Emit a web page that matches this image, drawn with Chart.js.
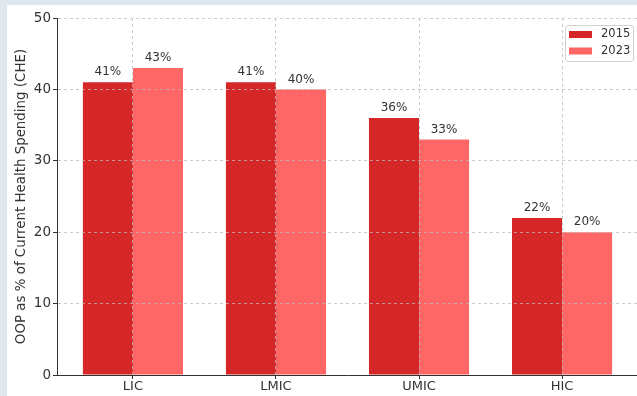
<!DOCTYPE html>
<html lang="en">
<head>
    <meta charset="UTF-8">
    <title>OOP share of CHE by income group</title>
    <script src="https://cdn.jsdelivr.net/npm/chart.js"></script>
    <style>
        html, body {
            margin: 0;
            padding: 0;
            background: #dfe7ef;
            width: 637px;
            height: 396px;
            overflow: hidden;
        }
        .frame {
            position: absolute;
            left: 7px;
            top: 5px;
            width: 630px;
            height: 391px;
            background: #ffffff;
        }
    </style>
</head>
<body>
    <div class="frame">
        <canvas id="oopChart" width="630" height="391"></canvas>
    </div>

    <script>
        // income groups and OOP share values (% of CHE)
        const groups = ["LIC", "LMIC", "UMIC", "HIC"];
        const years = ["2015", "2023"];
        const oop2015 = [41, 41, 36, 22];
        const oop2023 = [43, 40, 33, 20];
        const yTicks = [0, 10, 20, 30, 40, 50];

        const colors = ["#d62728", "#ff6666"];
        const textColor = "#333333";
        const fontFamily = "'DejaVu Sans', sans-serif";

        const toPoints = arr => arr.map((v, i) => ({ x: i, y: v }));

        // percentage labels above every bar
        const barLabels = {
            id: "barLabels",
            afterDatasetsDraw(chart) {
                const ctx = chart.ctx;
                ctx.save();
                ctx.font = "12px " + fontFamily;
                ctx.fillStyle = textColor;
                ctx.textAlign = "center";
                ctx.textBaseline = "bottom";
                chart.data.datasets.forEach((ds, di) => {
                    chart.getDatasetMeta(di).data.forEach((bar, i) => {
                        ctx.fillText(ds.data[i].y + "%", bar.x, bar.y - 4);
                    });
                });
                ctx.restore();
            }
        };

        // matplotlib-like legend box in the upper right corner
        const boxLegend = {
            id: "boxLegend",
            afterDraw(chart) {
                const ctx = chart.ctx;
                const area = chart.chartArea;
                const w = 68, h = 36;
                const x0 = area.right - w - 4, y0 = area.top + 7;
                ctx.save();
                ctx.fillStyle = "rgba(255,255,255,0.85)";
                ctx.strokeStyle = "#d0d0d0";
                ctx.lineWidth = 1;
                ctx.beginPath();
                ctx.roundRect(x0 + 0.5, y0 + 0.5, w, h, 3);
                ctx.fill();
                ctx.stroke();
                ctx.font = "11.5px " + fontFamily;
                ctx.textBaseline = "middle";
                ctx.textAlign = "left";
                chart.data.datasets.forEach((ds, i) => {
                    const cy = y0 + 9.5 + i * 16.5;
                    ctx.fillStyle = ds.backgroundColor;
                    ctx.fillRect(x0 + 4, cy - 3.5, 23, 7);
                    ctx.fillStyle = textColor;
                    ctx.fillText(ds.label, x0 + 36, cy);
                });
                ctx.restore();
            }
        };

        const gridStyle = {
            offset: false,
            color: ctx => (ctx.tick && ctx.tick.value === 0 && ctx.scale.axis === "y") ? "rgba(0,0,0,0)" : "rgba(185,185,185,0.75)",
            tickColor: "#333333",
            tickBorderDash: [],
            tickLength: 4,
            z: 1
        };
        const borderStyle = { display: true, color: "#333333", width: 1, dash: [3, 3], z: 2 };

        new Chart(document.getElementById("oopChart"), {
            type: "bar",
            data: {
                datasets: [
                    { label: years[0], data: toPoints(oop2015), backgroundColor: colors[0] },
                    { label: years[1], data: toPoints(oop2023), backgroundColor: colors[1] }
                ]
            },
            options: {
                responsive: false,
                animation: false,
                layout: { padding: { top: 13, right: 0, left: 0, bottom: 0 } },
                datasets: {
                    bar: { barPercentage: 1.0, categoryPercentage: 0.7, grouped: true }
                },
                plugins: {
                    legend: { display: false },
                    tooltip: { enabled: false }
                },
                scales: {
                    x: {
                        type: "linear",
                        min: -0.531,
                        max: 3.524,
                        offset: false,
                        afterBuildTicks: s => { s.ticks = groups.map((g, i) => ({ value: i })); },
                        afterFit: s => { s.height = 21; },
                        ticks: {
                            callback: v => groups[v],
                            color: textColor,
                            font: { family: fontFamily, size: 13 },
                            padding: 0,
                            maxRotation: 0
                        },
                        grid: gridStyle,
                        border: borderStyle
                    },
                    y: {
                        min: 0,
                        max: 50,
                        afterBuildTicks: s => { s.ticks = yTicks.map(v => ({ value: v })); },
                        afterFit: s => { s.width = 50; },
                        ticks: {
                            color: textColor,
                            font: { family: fontFamily, size: 13.5 },
                            padding: 2
                        },
                        grid: gridStyle,
                        border: borderStyle,
                        title: {
                            display: true,
                            text: "OOP as % of Current Health Spending (CHE)",
                            color: textColor,
                            font: { family: fontFamily, size: 13.4 },
                            padding: { top: 6, bottom: 0 }
                        }
                    }
                }
            },
            plugins: [barLabels, boxLegend]
        });
    </script>
</body>
</html>
